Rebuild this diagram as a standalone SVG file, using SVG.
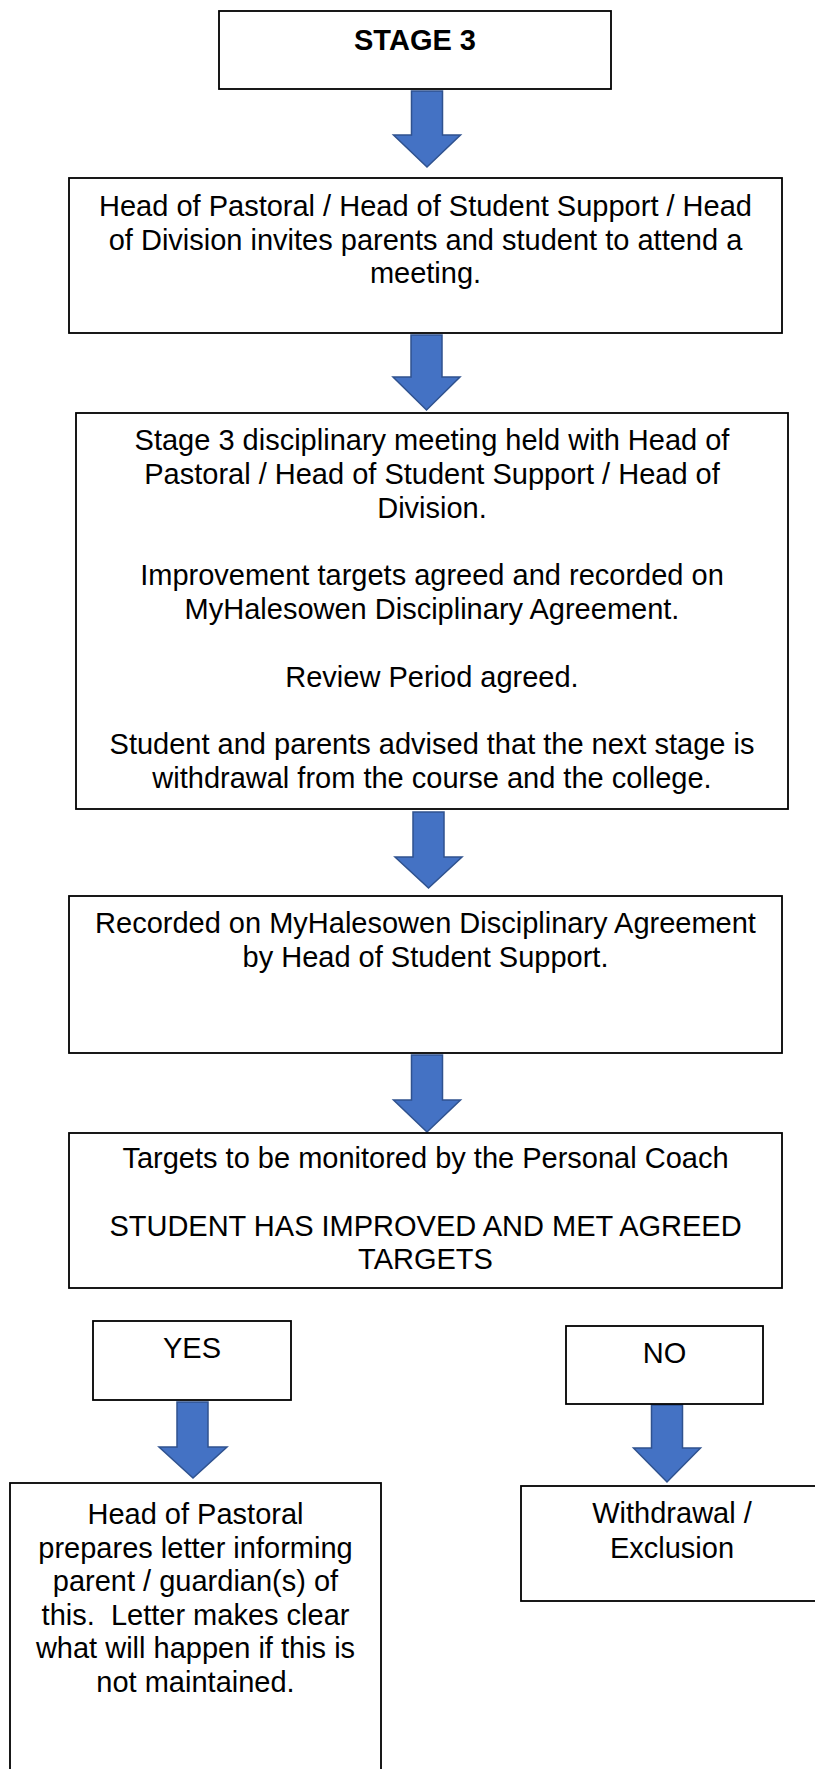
<svg xmlns="http://www.w3.org/2000/svg" width="815" height="1769" viewBox="0 0 815 1769">
<style>
.box{fill:#fff;stroke:#000;stroke-width:1.8}
.arr{fill:#4472C4;stroke:#2F528F;stroke-width:1.5;stroke-linejoin:miter}
text{font-family:"Liberation Sans",Arial,sans-serif;font-size:29px;fill:#000;text-anchor:middle}
.b{font-weight:bold}
</style>
<rect width="815" height="1769" fill="#fff"/>
<g id="connectors">
<path class="arr" d="M411.5,91 H442.5 V135 H460.5 L427,167 L393.5,135 H411.5 Z"/>
<path class="arr" d="M411,335 H442 V377 H460 L426.5,410 L393,377 H411 Z"/>
<path class="arr" d="M413,812 H444 V857 H462 L428.5,888 L395,857 H413 Z"/>
<path class="arr" d="M411.5,1055 H442.5 V1100 H460.5 L427,1132 L393.5,1100 H411.5 Z"/>
<path class="arr" d="M177,1402 H208 V1447 H227 L193,1478 L159,1447 H177 Z"/>
<path class="arr" d="M651.5,1405 H682.5 V1448 H700.5 L667,1482 L633.5,1448 H651.5 Z"/>
</g>
<g id="stage3">
<rect class="box" x="219" y="11" width="392" height="78"/>
<text class="b" x="415" y="50">STAGE 3</text>
</g>
<g id="invite">
<rect class="box" x="69" y="178" width="713" height="155"/>
<text x="425.5" y="216">Head of Pastoral / Head of Student Support / Head</text>
<text x="425.5" y="249.5">of Division invites parents and student to attend a</text>
<text x="425.5" y="283">meeting.</text>
</g>
<g id="meeting">
<rect class="box" x="76" y="413" width="712" height="396"/>
<text x="432" y="450">Stage 3 disciplinary meeting held with Head of</text>
<text x="432" y="483.8">Pastoral / Head of Student Support / Head of</text>
<text x="432" y="517.6">Division.</text>
<text x="432" y="585.2">Improvement targets agreed and recorded on</text>
<text x="432" y="619">MyHalesowen Disciplinary Agreement.</text>
<text x="432" y="686.6">Review Period agreed.</text>
<text x="432" y="754.2">Student and parents advised that the next stage is</text>
<text x="432" y="788">withdrawal from the course and the college.</text>
</g>
<g id="recorded">
<rect class="box" x="69" y="896" width="713" height="157"/>
<text x="425.5" y="933">Recorded on MyHalesowen Disciplinary Agreement</text>
<text x="425.5" y="967">by Head of Student Support.</text>
</g>
<g id="targets">
<rect class="box" x="69" y="1133" width="713" height="155"/>
<text x="425.5" y="1168">Targets to be monitored by the Personal Coach</text>
<text x="425.5" y="1236">STUDENT HAS IMPROVED AND MET AGREED</text>
<text x="425.5" y="1269">TARGETS</text>
</g>
<g id="yes">
<rect class="box" x="93" y="1321" width="198" height="79"/>
<text x="192" y="1358">YES</text>
</g>
<g id="no">
<rect class="box" x="566" y="1326" width="197" height="78"/>
<text x="664.5" y="1363">NO</text>
</g>
<g id="letter">
<rect class="box" x="10" y="1483" width="371" height="300"/>
<text x="195.5" y="1524">Head of Pastoral</text>
<text x="195.5" y="1557.5">prepares letter informing</text>
<text x="195.5" y="1591">parent / guardian(s) of</text>
<text x="195.5" y="1624.5" xml:space="preserve">this.  Letter makes clear</text>
<text x="195.5" y="1658">what will happen if this is</text>
<text x="195.5" y="1691.5">not maintained.</text>
</g>
<g id="withdrawal">
<rect class="box" x="521" y="1486" width="302" height="115"/>
<text x="672" y="1523">Withdrawal /</text>
<text x="672" y="1558">Exclusion</text>
</g>
</svg>
